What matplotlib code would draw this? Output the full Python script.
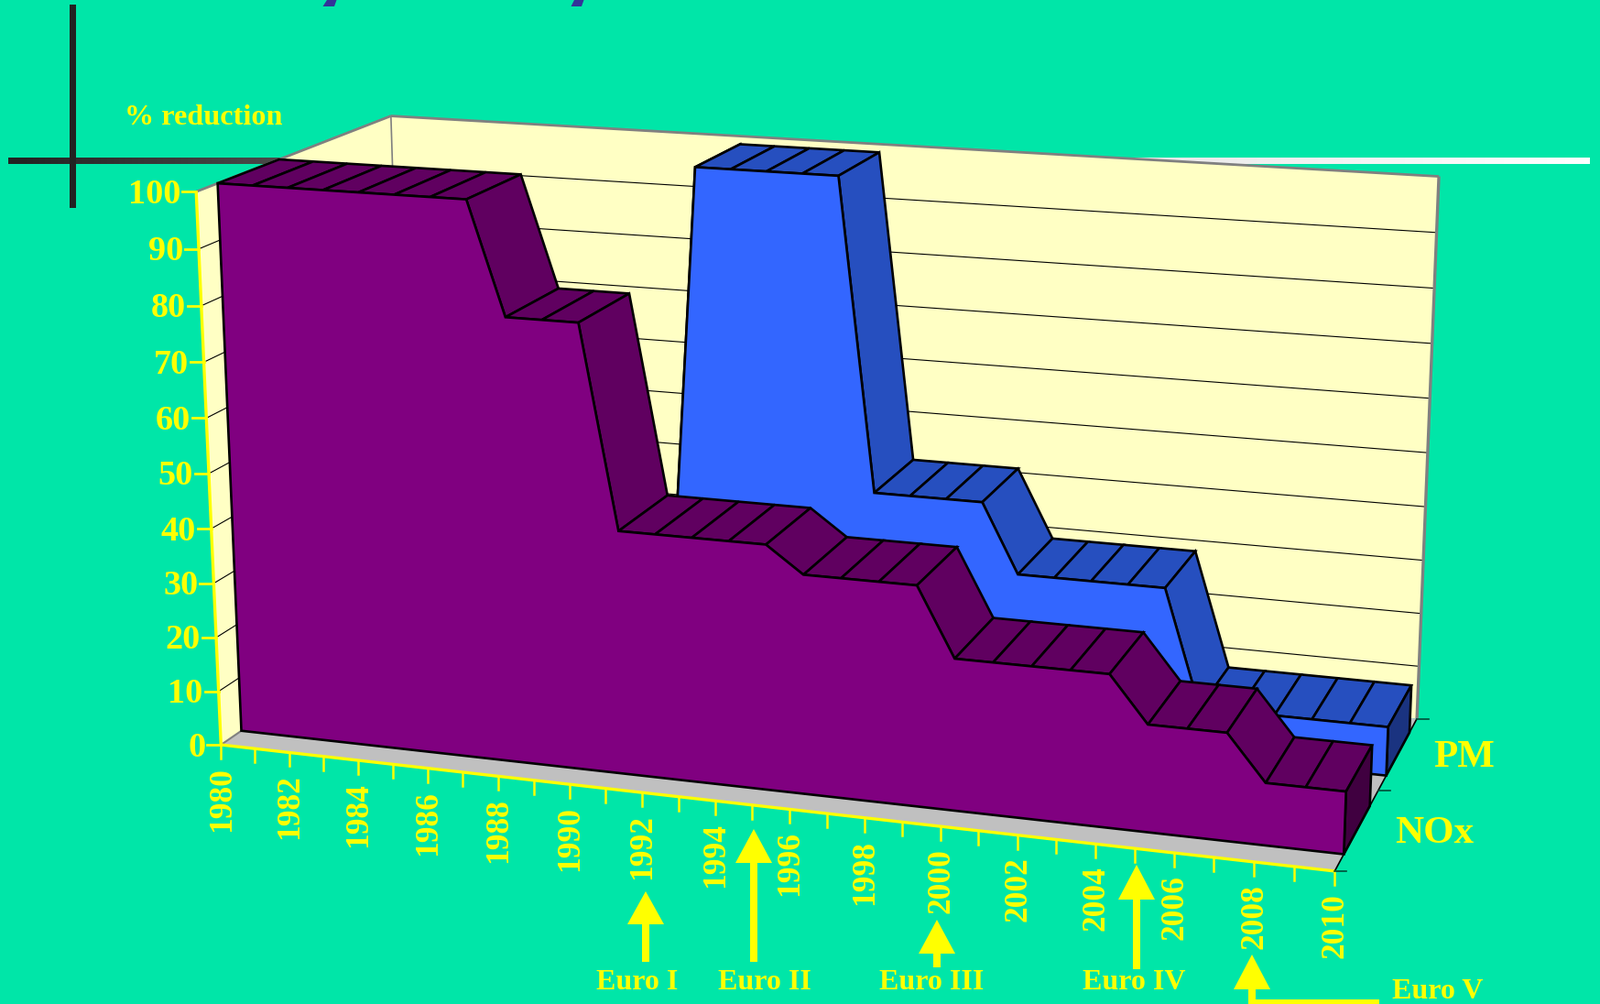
import numpy as np
import matplotlib
matplotlib.use("Agg")
import matplotlib.pyplot as plt
from matplotlib.colors import LinearSegmentedColormap

BG = "#00E6A8"
WALL = "#FFFFC4"
FLOOR = "#C0C0C0"
YELLOW = "#FFFF00"
SERIF = "Liberation Serif"

years = list(range(1980, 2011))
nox = [100] * 8 + [80] * 3 + [43.9] * 5 + [39.2] * 4 + [27] * 5 + [18.9] * 3 + [10.9] * 3
pm = [0] * 11 + [100] * 5 + [43] * 4 + [30.3] * 5 + [8.9] * 6
z_ticks = [0, 10, 20, 30, 40, 50, 60, 70, 80, 90, 100]
year_labels = list(range(1980, 2011, 2))
series_names = ["NOx", "PM"]

# camera calibration: (year, depth, value) -> canvas pixel
camera_points = [
    (1980, 0, 0, 242, 812), (2010, 0, 0, 1458, 952), (1990, 0, 0, 622, 857),
    (2000, 0, 0, 1025, 902), (1980, 0, 100, 215.6, 209), (1980, 1, 100, 427, 127.3),
    (2010, 1, 100, 1571, 194), (2010, 1, 0, 1547.3, 785.7), (2010, .5, 0, 1506.7, 861.7),
    (1980, .1, 0, 263.3, 799), (1980, .1, 100, 236.3, 200.7), (1980, .4, 100, 304.7, 173.3),
    (1987, .1, 100, 509, 217.7), (1987, .4, 100, 569, 190), (1991, .6, 100, 758.3, 181.7),
    (1991, .9, 100, 807.3, 157.3), (1995, .6, 100, 916.7, 192.7), (1995, .9, 100, 960, 165),
    (2010, .1, 0, 1466.7, 931.7), (2010, .4, 0, 1496, 880), (2010, .6, 0, 1511.7, 846.7),
    (2010, .9, 0, 1539.3, 798.3),
]


def solve_camera(points):
    rows = []
    for yr, d, v, px, py in points:
        X = [(yr - 1980) / 30, d, v / 100, 1]
        u, w = px / 1000, py / 1000
        rows.append(X + [0, 0, 0, 0] + [-u * c for c in X])
        rows.append([0, 0, 0, 0] + X + [-w * c for c in X])
    _, _, vt = np.linalg.svd(np.array(rows))
    return vt[-1].reshape(3, 4)


CAM = solve_camera(camera_points)


def proj(yr, d, v):
    h = CAM @ np.array([(yr - 1980) / 30, d, v / 100, 1])
    return h[0] / h[2] * 1000, h[1] / h[2] * 1000


def poly(ax, pts, color, edge="none", lw=0, z=2):
    xy = [proj(*p) for p in pts]
    ax.fill(*zip(*xy), facecolor=color, edgecolor=edge, linewidth=lw, zorder=z,
            joinstyle="miter")


def seg(ax, a, b, color, lw, z=3):
    pa, pb = proj(*a), proj(*b)
    ax.plot([pa[0], pb[0]], [pa[1], pb[1]], color=color, lw=lw, zorder=z,
            solid_capstyle="butt")


def draw_series(ax, vals, d0, d1, front, top, cap, z):
    for i in range(len(years) - 1):
        a, b = years[i], years[i + 1]
        poly(ax, [(a, d0, vals[i]), (b, d0, vals[i + 1]), (b, d1, vals[i + 1]), (a, d1, vals[i])],
             top, "black", 1.9, z)
    end = years[-1]
    poly(ax, [(end, d0, 0), (end, d1, 0), (end, d1, vals[-1]), (end, d0, vals[-1])],
         cap, "black", 1.9, z)
    outline = [(years[0], d0, 0)] + [(y, d0, v) for y, v in zip(years, vals)] + [(end, d0, 0)]
    poly(ax, outline, front, "black", 1.9, z + 0.5)


def arrow(ax, x, tip, base, bottom, half=20, shaft=4):
    ax.fill([x, x + half, x + shaft, x + shaft, x - shaft, x - shaft, x - half],
            [tip, base, base, bottom, bottom, base, base], color=YELLOW, lw=0, zorder=6)


def main():
    fig = plt.figure(figsize=(17.47, 10.96), dpi=100, facecolor=BG)
    ax = fig.add_axes([0, 0, 1, 1])
    ax.set_xlim(0, 1747)
    ax.set_ylim(1096, 0)
    ax.axis("off")

    # slide decoration behind the chart
    ramp = LinearSegmentedColormap.from_list(
        "rule", [(0, "#222222"), (0.17, "#4A4A4A"), (0.7, "#E8E8E8"), (1, "#FFFFFF")])
    ax.imshow(np.linspace(0, 1, 512).reshape(1, -1), cmap=ramp, aspect="auto",
              extent=(9, 1736, 179, 172), zorder=1)
    ax.set_xlim(0, 1747)
    ax.set_ylim(1096, 0)
    ax.fill([76, 83, 83, 76], [5, 5, 227, 227], color="#222222", lw=0, zorder=1)
    ax.fill([352.5, 365, 367.5, 357], [7, 7, 0, 0], color="#333399", lw=0, zorder=1)
    ax.fill([623.5, 635, 637.5, 627], [7, 7, 0, 0], color="#333399", lw=0, zorder=1)

    # walls and floor
    y0, y1 = years[0], years[-1]
    poly(ax, [(y0, 1, 0), (y1, 1, 0), (y1, 1, 100), (y0, 1, 100)], WALL, z=1.5)
    poly(ax, [(y0, 0, 0), (y0, 1, 0), (y0, 1, 100), (y0, 0, 100)], WALL, z=1.5)
    poly(ax, [(y0, 0, 0), (y1, 0, 0), (y1, 1, 0), (y0, 1, 0)], FLOOR, z=1.5)

    for v in z_ticks[1:-1]:
        seg(ax, (y0, 0, v), (y0, 1, v), "black", 0.8, 1.6)
        seg(ax, (y0, 1, v), (y1, 1, v), "black", 0.8, 1.6)
    seg(ax, (y0, 0, 100), (y0, 1, 100), "#808080", 2, 1.7)
    seg(ax, (y0, 1, 100), (y1, 1, 100), "#808080", 2, 1.7)
    seg(ax, (y1, 1, 100), (y1, 1, 0), "#808080", 2.4, 1.7)
    seg(ax, (y0, 1, 100), (y0, 1, 0), "#808080", 1.2, 1.7)
    seg(ax, (y0, 0, 0), (y0, 1, 0), "#808080", 1.5, 1.7)

    draw_series(ax, pm, 0.6, 0.9, "#3366FF", "#264FBF", "#1A3380", 2)
    draw_series(ax, nox, 0.1, 0.4, "#800080", "#600060", "#400040", 3)

    # axes
    seg(ax, (y0, 0, 0), (y0, 0, 100), YELLOW, 2.4, 5)
    seg(ax, (y0, 0, 0), (y1, 0, 0), YELLOW, 2.4, 5)
    seg(ax, (y1, 0, 0), (y1, 1, 0), "black", 1.2, 5)
    for v in z_ticks:
        px, py = proj(y0, 0, v)
        ax.plot([px - 15, px], [py, py], color=YELLOW, lw=2, zorder=5)
        ax.text(px - 17, py + 3, str(v), color=YELLOW, fontsize=27.5, fontfamily=SERIF,
                fontweight="bold", ha="right", va="center", zorder=6)
    for yr in years:
        px, py = proj(yr, 0, 0)
        ax.plot([px, px], [py, py + 15], color=YELLOW, lw=1.8, zorder=5)
    for yr in year_labels:
        px, py = proj(yr, 0, 0)
        ax.text(px + 1, py + 24, str(yr), color=YELLOW, fontsize=25.5, fontfamily=SERIF,
                fontweight="bold", rotation=90, ha="center", va="top", zorder=6)
    for d in (0, 0.5, 1):
        px, py = proj(y1, d, 0)
        ax.plot([px, px + 13], [py, py], color="#004D38", lw=1.2, zorder=5)

    ax.text(1599, 827, series_names[1], color=YELLOW, fontsize=31, fontfamily=SERIF,
            fontweight="bold", ha="center", va="center", zorder=6)
    ax.text(1566, 910, series_names[0], color=YELLOW, fontsize=31, fontfamily=SERIF,
            fontweight="bold", ha="center", va="center", zorder=6)
    ax.text(222, 129, "% reduction", color=YELLOW, fontsize=23.2, fontfamily=SERIF,
            fontweight="bold", ha="center", va="center", zorder=6)

    # regulation stages
    arrow(ax, 705, 973, 1009, 1050)
    arrow(ax, 823, 905, 942, 1050)
    arrow(ax, 1023, 1004, 1041, 1056)
    arrow(ax, 1241, 944, 982, 1058)
    arrow(ax, 1367, 1042, 1080, 1096)
    ax.fill([1363, 1506, 1506, 1363], [1091, 1091, 1096, 1096], color=YELLOW, lw=0, zorder=6)
    for label, x, y in [("Euro I", 696, 1073), ("Euro II", 835, 1073), ("Euro III", 1017, 1073),
                        ("Euro IV", 1238, 1073), ("Euro V", 1570, 1082)]:
        ax.text(x, y, label, color=YELLOW, fontsize=23, fontfamily=SERIF,
                fontweight="bold", ha="center", va="center", zorder=6)

    fig.savefig("out.png", dpi=100, facecolor=BG)
    plt.close(fig)


if __name__ == "__main__":
    main()
